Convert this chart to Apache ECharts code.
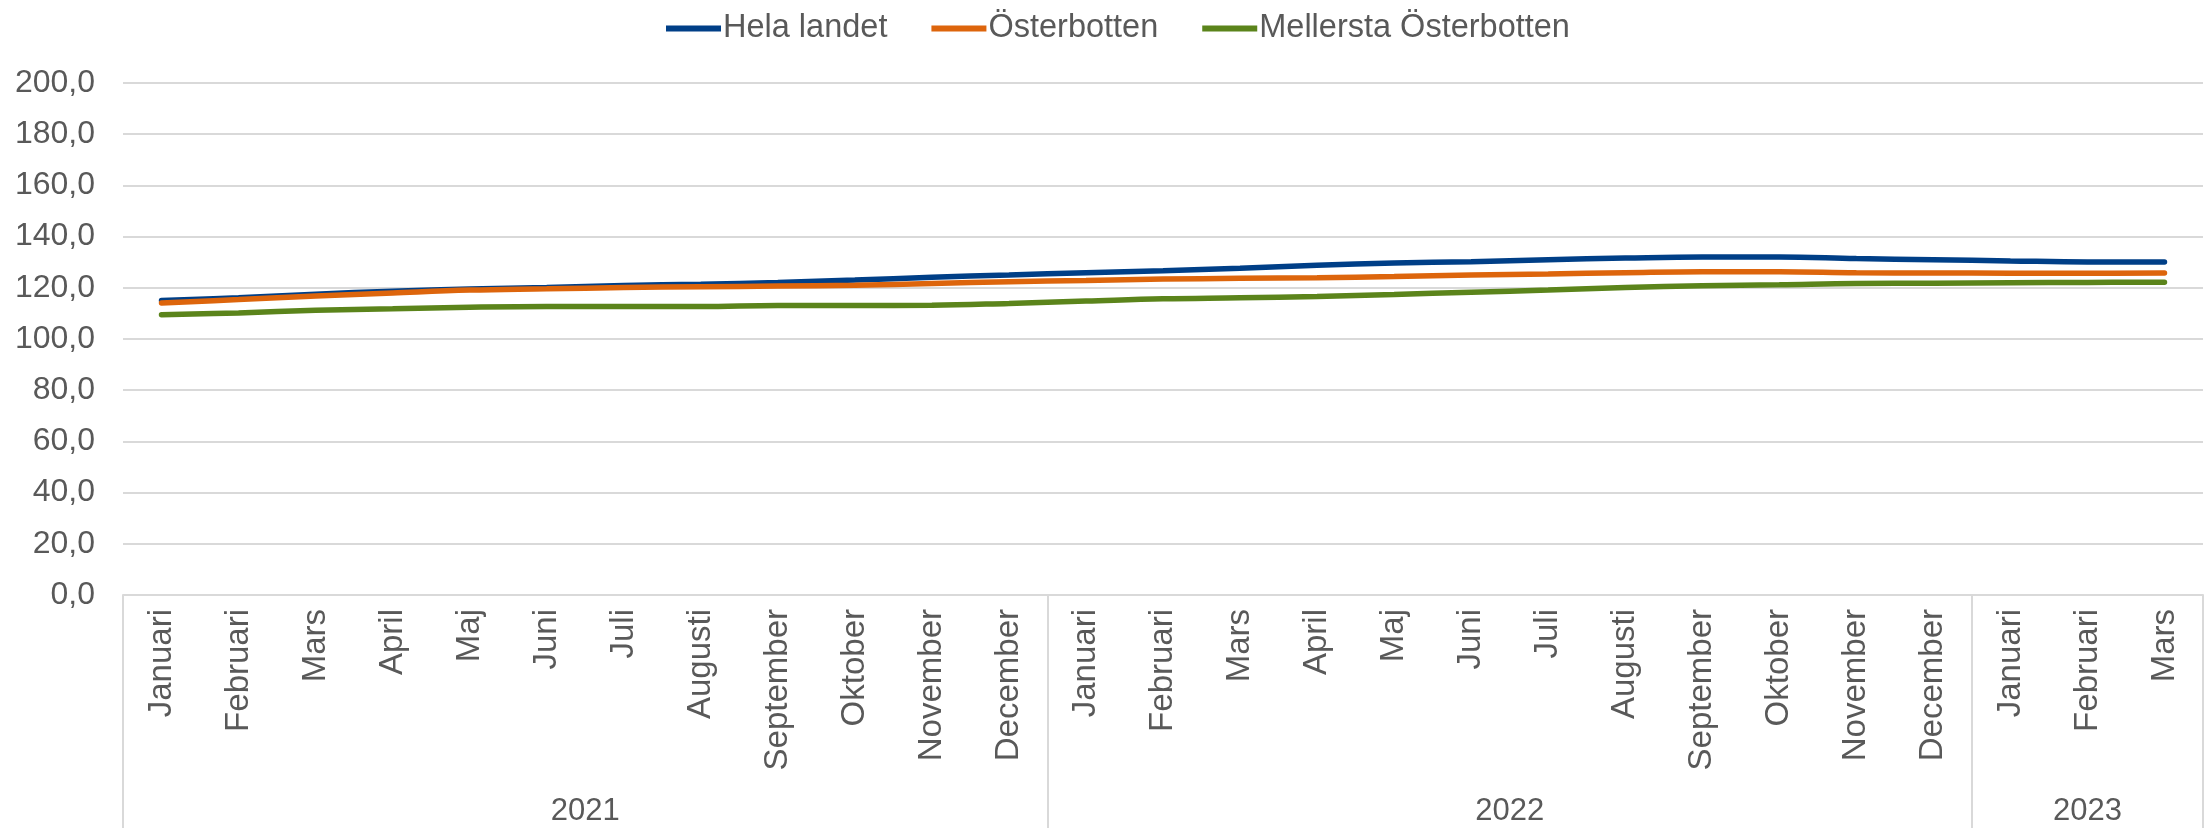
<!DOCTYPE html>
<html>
<head>
<meta charset="utf-8">
<script src="https://cdn.jsdelivr.net/npm/echarts@6/dist/echarts.min.js"></script>
<style>html,body{margin:0;padding:0;background:#fff;}#c{width:2211px;height:828px;}</style>
</head>
<body>
<div id="c"></div>
<script>
const months = ['Januari','Februari','Mars','April','Maj','Juni','Juli','Augusti','September','Oktober','November','December',
  'Januari','Februari','Mars','April','Maj','Juni','Juli','Augusti','September','Oktober','November','December',
  'Januari','Februari','Mars'];
const years = ['2021','2022','2023'];
const yearSizes = [12,12,3];
const seriesNames = ['Hela landet','Österbotten','Mellersta Österbotten'];
const helaLandet = [115.0,116.1,117.5,118.7,119.5,120.1,120.9,121.4,122.1,123.0,124.1,125.0,125.9,126.7,127.6,128.8,129.7,130.2,131.0,131.6,132.0,132.0,131.4,131.0,130.5,130.1,130.1];
const osterbotten = [114.1,115.4,116.8,118.0,119.1,119.6,120.1,120.4,120.7,121.0,121.7,122.4,122.9,123.4,123.7,123.9,124.4,125.0,125.4,125.9,126.3,126.3,125.9,125.8,125.7,125.7,125.8];
const mellersta = [109.5,110.2,111.2,111.8,112.4,112.7,112.7,112.7,113.1,113.1,113.2,113.9,114.8,115.7,116.1,116.6,117.4,118.3,119.1,120.1,120.8,121.2,121.7,121.8,122.0,122.1,122.2];
const colors = ['#003f87','#dd650c','#5b841b'];

// group boundaries and centers for the year axis
const bounds = [0];
yearSizes.forEach(s => bounds.push(bounds[bounds.length-1] + s));
const centers = years.map((y,i) => (bounds[i] + bounds[i+1]) / 2);

const txt = '#595959';
const font = 'Liberation Sans, Arial, sans-serif';
const chart = echarts.init(document.getElementById('c'));
chart.setOption({
  animation: false,
  color: colors,
  textStyle: {fontFamily: font},
  legend: {
    top: 7, left: 661,
    icon: 'rect', itemWidth: 55, itemHeight: 6, itemGap: 44,
    textStyle: {color: txt, fontSize: 32.5, fontFamily: font, padding: [0, 0, 0, -3]},
    data: seriesNames
  },
  grid: {left: 123, right: 8, top: 83, bottom: 233, containLabel: false},
  xAxis: [{
    type: 'category', data: months, boundaryGap: true,
    axisLine: {show: true, lineStyle: {color: '#d9d9d9', width: 2}},
    axisTick: {show: false},
    axisLabel: {rotate: 90, interval: 0, margin: 14, color: txt, fontSize: 33, fontFamily: font}
  }, {
    type: 'value', min: 0, max: bounds[bounds.length-1], position: 'bottom',
    axisLine: {show: false},
    splitLine: {show: false},
    axisTick: {show: true, customValues: bounds, length: 240, inside: false, lineStyle: {color: '#d9d9d9', width: 2}},
    axisLabel: {customValues: centers, margin: 201, color: txt, fontSize: 31, fontFamily: font,
      formatter: v => { const i = centers.indexOf(v); return i >= 0 ? years[i] : ''; }}
  }],
  yAxis: {
    type: 'value', min: 0, max: 200, interval: 20,
    axisLine: {show: false}, axisTick: {show: false},
    splitLine: {lineStyle: {color: '#d9d9d9', width: 2}},
    axisLabel: {margin: 28, color: txt, fontSize: 32, fontFamily: font,
      formatter: v => v.toFixed(1).replace('.', ',')}
  },
  series: [helaLandet, osterbotten, mellersta].map((d, i) => ({
    name: seriesNames[i], type: 'line', xAxisIndex: 0, data: d,
    smooth: 0.4, symbol: 'none', lineStyle: {width: 5.5, cap: 'round', color: colors[i]}
  }))
});
</script>
</body>
</html>
